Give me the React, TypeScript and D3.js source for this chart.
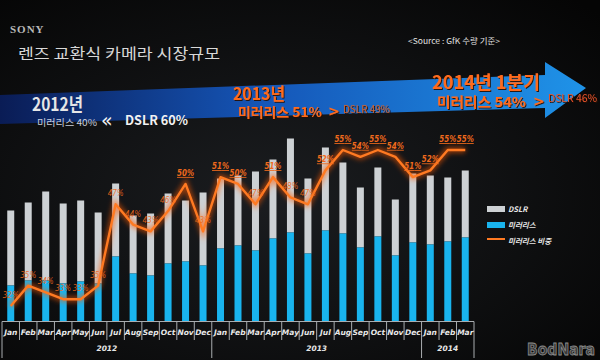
import React from "react";
import * as d3 from "d3";

// monthly market volume (units), split by camera type
const years = ["2012", "2013", "2014"];
const monthNames = ["Jan", "Feb", "Mar", "Apr", "May", "Jun", "Jul", "Aug", "Sep", "Oct", "Nov", "Dec"];
const monthsPerYear = [12, 12, 3];

const mirrorless = [36, 41, 41, 38, 40, 38, 65, 48, 46, 58, 60, 56, 73, 76, 71, 83, 89, 68, 91, 88, 74, 85, 66, 79, 77, 80, 84];
const dslr = [75, 78, 89, 80, 81, 71, 73, 58, 62, 70, 61, 73, 70, 70, 79, 79, 94, 75, 83, 71, 60, 69, 56, 69, 69, 64, 67];
const share = [32, 35, 34, 33, 33, 35, 47, 44, 43, 46, 50, 43, 51, 50, 47, 51, 48, 47, 52, 55, 54, 55, 54, 51, 52, 55, 55];

const legendItems = ["DSLR", "미러리스", "미러리스 비중"];

const W = 600;
const H = 360;
const KR = "'Noto Sans CJK KR', 'Noto Sans', sans-serif";
const GRAY = "#cdd1d4";
const BLUE = "#19b4ee";
const ORANGE = "#ff7a22";
const LABEL = "#f06a1c";

const periods = years.flatMap((y, i) =>
  monthNames.slice(0, monthsPerYear[i]).map((m) => ({ key: `${y}-${m}`, year: y, month: m }))
);

export default function App() {
  const x = d3.scaleBand<string>()
    .domain(periods.map((p) => p.key))
    .range([2, 474])
    .paddingInner(0.6)
    .paddingOuter(0.3);
  const bw = x.bandwidth();
  const step = x.step();
  const pad = (step - bw) / 2;
  const cx = (i: number) => (x(periods[i].key) as number) + bw / 2;
  const edge = (i: number) =>
    i < periods.length ? (x(periods[i].key) as number) - pad : (x(periods[i - 1].key) as number) + bw + pad;

  const base = 321.5;
  const yBar = d3.scaleLinear().domain([0, 200]).range([base, base - 200]);
  const yPct = d3.scaleLinear().domain([32, 55]).range([306, 150]);

  const line = d3.line<number>()
    .x((_, i) => cx(i))
    .y((d) => yPct(d));

  const yearStarts = d3.cumsum([0, ...monthsPerYear]);
  const dashTops = [77, 68, 56];
  const fit = { lengthAdjust: "spacingAndGlyphs" } as any;

  return (
    <div style={{ position: "absolute", left: 0, top: 0 }}>
      <svg width={W} height={H} style={{ display: "block" }}>
        <defs>
          <radialGradient id="bg" cx="0.45" cy="0.55" r="0.75">
            <stop offset="0" stopColor="#1b1d20" />
            <stop offset="1" stopColor="#050505" />
          </radialGradient>
          <linearGradient id="arrow" x1="0" x2="1" y1="0" y2="0">
            <stop offset="0" stopColor="#0a1c55" />
            <stop offset="0.45" stopColor="#1556b8" />
            <stop offset="1" stopColor="#1f93e8" />
          </linearGradient>
          <filter id="glow" x="-10%" y="-10%" width="120%" height="120%">
            <feGaussianBlur stdDeviation="2.5" />
          </filter>
          <filter id="shadow" x="-10%" y="-20%" width="120%" height="140%">
            <feDropShadow dx="1" dy="1" stdDeviation="0.6" floodColor="#2a0800" floodOpacity="0.9" />
          </filter>
        </defs>

        <rect width={W} height={H} fill="url(#bg)" />

        {/* header */}
        <text x={10} y={33} fontFamily="'Liberation Serif', serif" fontWeight="bold" fontSize={11} letterSpacing={1} fill="#b9b9b9">SONY</text>
        <text x={18} y={59} fontFamily={KR} fontSize={15} textLength={202} {...fit} fill="#d8d8d8">렌즈 교환식 카메라 시장규모</text>
        <text x={408} y={44} fontFamily={KR} fontSize={8} textLength={92} {...fit} fill="#e0e0e0">&lt;Source : GfK 수량 기준&gt;</text>

        {/* big arrow */}
        <polygon points="0,95 545,75 545,62 586,88 545,118 545,108 0,124" fill="url(#arrow)" />

        <text x={32} y={111} fontFamily={KR} fontWeight="bold" fontSize={18} textLength={51} {...fit} fill="#e6e6e6">2012년</text>
        <text x={37} y={126} fontFamily={KR} fontSize={9.5} textLength={60} {...fit} fill="#c9cfdc">미러리스 40%</text>
        <text x={101} y={127} fontFamily="'DejaVu Sans', sans-serif" fontSize={19} fill="#f0f0f0">«</text>
        <text x={125} y={125} fontFamily={KR} fontWeight="bold" fontSize={13} textLength={63} {...fit} fill="#f2f2f2">DSLR 60%</text>

        <g filter="url(#shadow)">
          <text x={233} y={100} fontFamily={KR} fontWeight="bold" fontSize={17} textLength={52} {...fit} fill="#ff6b1f">2013년</text>
          <text x={238} y={117} fontFamily={KR} fontWeight="bold" fontSize={13} textLength={84} {...fit} fill="#ff6b1f">미러리스 51%</text>
          <text x={328} y={116} fontFamily="'DejaVu Sans', sans-serif" fontWeight="bold" fontSize={14} fill="#ff6b1f">&gt;</text>
          <text x={343} y={113} fontFamily={KR} fontSize={10} textLength={47} {...fit} fill="#d0602e">DSLR 49%</text>

          <text x={432} y={89} fontFamily={KR} fontWeight="bold" fontSize={18} textLength={108} {...fit} fill="#ff6b1f">2014년 1분기</text>
          <text x={437} y={107} fontFamily={KR} fontWeight="bold" fontSize={13.5} textLength={89} {...fit} fill="#ff6b1f">미러리스 54%</text>
          <text x={533} y={106} fontFamily="'DejaVu Sans', sans-serif" fontWeight="bold" fontSize={14} fill="#ff6b1f">&gt;</text>
          <text x={548} y={102} fontFamily={KR} fontSize={10} textLength={49} {...fit} fill="#e8522a">DSLR 46%</text>
        </g>

        {/* year dashed dividers */}
        {yearStarts.slice(0, 3).map((s, i) => (
          <line key={"d" + i} x1={Math.max(edge(s), 9)} x2={Math.max(edge(s), 9)} y1={dashTops[i]} y2={base}
            stroke="#f2f2f2" strokeWidth={1.4} strokeDasharray="4 2.5" />
        ))}

        {/* stacked bars */}
        {periods.map((p, i) => (
          <g key={p.key}>
            <rect x={x(p.key)} y={yBar(mirrorless[i] + dslr[i])} width={bw}
              height={yBar(mirrorless[i]) - yBar(mirrorless[i] + dslr[i])} fill={GRAY} />
            <rect x={x(p.key)} y={yBar(mirrorless[i])} width={bw}
              height={base - yBar(mirrorless[i])} fill={BLUE} />
          </g>
        ))}

        {/* share line */}
        <path d={line(share) ?? ""} fill="none" stroke="#ff5a00" strokeWidth={6} strokeOpacity={0.55} filter="url(#glow)" />
        <path d={line(share) ?? ""} fill="none" stroke={ORANGE} strokeWidth={2.4} strokeLinejoin="round" />

        {share.map((v, i) => (
          <text key={"l" + i} x={cx(i)} y={yPct(v) - 8} textAnchor="middle"
            fontFamily="'DejaVu Sans', sans-serif" fontStyle="italic"
            fontWeight={v >= 50 ? "bold" : "normal"} fontSize={v >= 50 ? 8.5 : 8}
            textLength={v >= 50 ? 17 : 16} {...fit}
            fill={LABEL} fillOpacity={v >= 50 ? 1 : 0.9}
            style={{ textDecoration: v >= 50 ? "underline" : "none" }}>
            {v}%
          </text>
        ))}

        {/* x axis */}
        <line x1={edge(0)} x2={edge(periods.length)} y1={base} y2={base} stroke="#a9adb0" strokeWidth={1} />
        {d3.range(periods.length + 1).map((i) => (
          <line key={"t" + i} x1={edge(i)} x2={edge(i)} y1={base}
            y2={yearStarts.includes(i) ? 358 : 340} stroke="#a9adb0" strokeWidth={1} />
        ))}
        {periods.map((p, i) => (
          <text key={"m" + i} x={cx(i)} y={335} textAnchor="middle" fontFamily="'DejaVu Sans', sans-serif"
            fontStyle="italic" fontWeight="bold" fontSize={7.5} fill="#e8e8e8">{p.month}</text>
        ))}
        {years.map((yr, i) => (
          <text key={yr} x={(edge(yearStarts[i]) + edge(yearStarts[i + 1])) / 2} y={351} textAnchor="middle"
            fontFamily="'DejaVu Sans', sans-serif" fontStyle="italic" fontWeight="bold" fontSize={7.5} fill="#e8e8e8">{yr}</text>
        ))}

        {/* legend */}
        <rect x={487} y={206} width={18} height={6} fill={GRAY} />
        <rect x={487} y={222} width={18} height={6} fill={BLUE} />
        <line x1={487} x2={505} y1={239} y2={239} stroke={ORANGE} strokeWidth={2} />
        {legendItems.map((t, i) => (
          <text key={t} x={508} y={212 + i * 16} fontFamily={KR} fontStyle="italic" fontWeight="bold"
            fontSize={7.5} fill="#e6e6e6">{t}</text>
        ))}

        {/* watermark */}
        <text x={527} y={355} fontFamily="'DejaVu Sans', sans-serif" fontWeight="bold" fontSize={15}
          textLength={68} {...fit} fill="#3a3a3a" stroke="#8c8c8c" strokeWidth={0.8}>BodNara</text>
      </svg>
    </div>
  );
}
